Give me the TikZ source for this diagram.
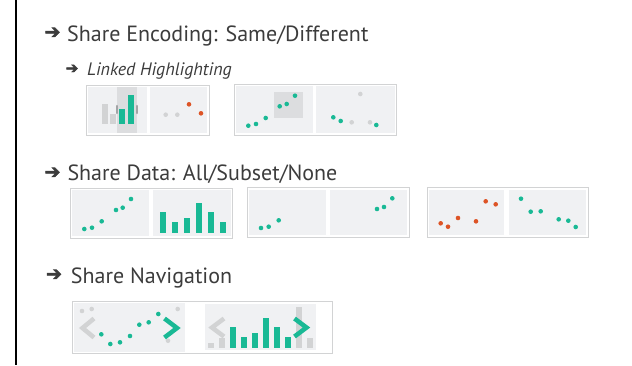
\documentclass[tikz,border=0pt]{standalone}
\usepackage{fontspec}
\setmainfont{PT Sans}
\newfontfamily\arrowfont{DejaVu Sans}[FakeBold=3]
\usepackage{xcolor}
\usepackage{tikz}
\usetikzlibrary{positioning}

\definecolor{txt}{HTML}{3C3C3C}
\definecolor{tealc}{HTML}{19B995}
\definecolor{redc}{HTML}{DD5426}
\definecolor{lightg}{HTML}{D2D3D4}
\definecolor{paneg}{HTML}{F0F1F3}
\definecolor{hig}{HTML}{DCDDDF}
\definecolor{handleg}{HTML}{A3A4A6}

\begin{document}
\begin{tikzpicture}[
  x=1pt, y=-1pt,
  heading/.style={anchor=base west, inner sep=0pt, text=txt, font=\fontsize{22}{26}\selectfont},
  subheading/.style={anchor=base west, inner sep=0pt, text=txt, font=\fontsize{18}{20}\selectfont\itshape},
  arrowmark/.style={inner sep=0pt, text=txt, font=\arrowfont\bfseries\fontsize{19}{20}\selectfont},
  frame/.style={draw=lightg, line width=1pt, fill=white},
  pane/.style={fill=paneg},
  tealbar/.style={fill=tealc},
  greybar/.style={fill=lightg},
  chevron/.style={line width=4.5pt, miter limit=10}
]
\useasboundingbox (0,0) rectangle (632,365);
\draw[line width=2pt] (16,0) -- (16,365);

% headings
\node[arrowmark] (encarrow) at (52.5,33) {➔};
\node[heading] (enc) at (67,41.7) {Share Encoding: Same/Different};
\node[arrowmark, font=\arrowfont\bfseries\fontsize{15}{16}\selectfont] (linkarrow) at (72,69) {➔};
\node[subheading] (link) at (87,75) {Linked Highlighting};
\node[arrowmark] (dataarrow) at (52.5,173) {➔};
\node[heading] (data) at (67.3,180.7) {Share Data: All/Subset/None};
\node[arrowmark] (navarrow) at (54,275) {➔};
\node[heading] (nav) at (70.7,283.3) {Share Navigation};

% two-pane frames
\foreach \xa/\ya/\xb/\yb/\sa/\sb in {
  86/85/209/135/146.5/149.5,
  234/84/396.7/135/312.7/316,
  70/188.3/232.7/238.3/149.3/152.7,
  247.3/187.7/409.3/237.3/326/330,
  427.3/187.7/588.3/237.3/504/509.3}{
  \draw[frame] (\xa,\ya) rectangle (\xb,\yb);
  \fill[pane] (\xa+2,\ya+2) rectangle (\sa,\yb-2);
  \fill[pane] (\sb,\ya+2) rectangle (\xb-2,\yb-2);
}

% linked highlighting: bars and scatter
\fill[hig] (116.7,87) rectangle (136.7,133);
\fill[greybar] (102,104) rectangle (108,124.3);
\fill[greybar] (110,114) rectangle (115.7,124.3);
\fill[tealbar] (119,109) rectangle (125,124.3);
\fill[tealbar] (128,95) rectangle (134,124.3);
\foreach \x in {116.7,136.7}
  \draw[handleg, line width=2.2pt, line cap=round] (\x,106) -- (\x,113);
\foreach \x/\y/\c in {165.7/114.7/lightg, 177.3/114.7/lightg, 189/104.3/redc, 201/113.3/redc}
  \fill[\c] (\x,\y) circle (2.3pt);

% linked highlighting: scatter and scatter
\fill[hig] (274.3,92.3) rectangle (302.7,117.7);
\foreach \x/\y/\c in {
  248.3/125.7/tealc, 256/124/tealc, 265.7/118/tealc,
  279.7/106.3/tealc, 286.7/104/tealc, 295/95.7/tealc,
  333.3/117.3/tealc, 340.7/121/tealc, 351.7/122.3/lightg,
  370/122.3/lightg, 376.3/125/tealc, 360.3/94/lightg}
  \fill[\c] (\x,\y) circle (2.3pt);

% share data: all
\foreach \x/\y in {84.3/229, 92/227.7, 101.7/221.3, 116/210, 122.7/207.7, 131/199}
  \fill[tealc] (\x,\y) circle (2.3pt);
\foreach \x/\h in {160/211.7, 172/222, 184/218, 196/202.7, 208/211.7, 220/222}
  \fill[tealbar] (\x,\h) rectangle (\x+6,232.7);

% share data: subset
\foreach \x/\y in {261/228, 268.7/226.7, 278.7/220.3, 377/209, 384/207, 392.3/198.3}
  \fill[tealc] (\x,\y) circle (2.3pt);

% share data: none
\foreach \x/\y/\c in {
  440.7/223.3/redc, 448/226.7/redc, 458/218/redc,
  476/221.3/redc, 485.7/201.3/redc, 495.7/204.3/redc,
  521/198.7/tealc, 530.7/211.7/tealc, 540.7/211.3/tealc,
  558.7/219.3/tealc, 568.3/220.7/tealc, 575.7/227/tealc}
  \fill[\c] (\x,\y) circle (2.3pt);

% share navigation
\draw[frame] (72,301.5) rectangle (332.3,353.3);
\fill[pane] (73.5,303) rectangle (185,351.7);
\fill[pane] (205,304.3) rectangle (315.7,350);
\foreach \x/\y/\c in {
  82/311/lightg, 91.7/309/lightg, 177.7/309/lightg, 168/340.7/lightg,
  101.3/334.3/tealc, 110.3/344/tealc, 120/342.3/tealc, 130/336/tealc,
  139.3/324.7/tealc, 148.7/322.3/tealc, 158.3/314/tealc}
  \fill[\c] (\x,\y) circle (2.3pt);
\draw[chevron, lightg] (94,318.5) -- (82.5,328) -- (94,337.5);
\draw[chevron, tealc] (164.5,318.5) -- (177,328) -- (164.5,337.5);
\foreach \x/\h/\s in {
  207.7/342.7/greybar, 219/338.3/greybar,
  230/326.7/tealbar, 241/336.7/tealbar, 252/332.7/tealbar,
  263/317.7/tealbar, 274/326.7/tealbar, 285/336.7/tealbar,
  296/307/greybar, 307/338.3/greybar}
  \fill[\s] (\x,\h) rectangle (\x+6,347.7);
\draw[chevron, lightg] (224,318.5) -- (212,327.5) -- (224,336.5);
\draw[chevron, tealc] (294.5,318.5) -- (306.5,327.5) -- (294.5,336.5);
\end{tikzpicture}
\end{document}
